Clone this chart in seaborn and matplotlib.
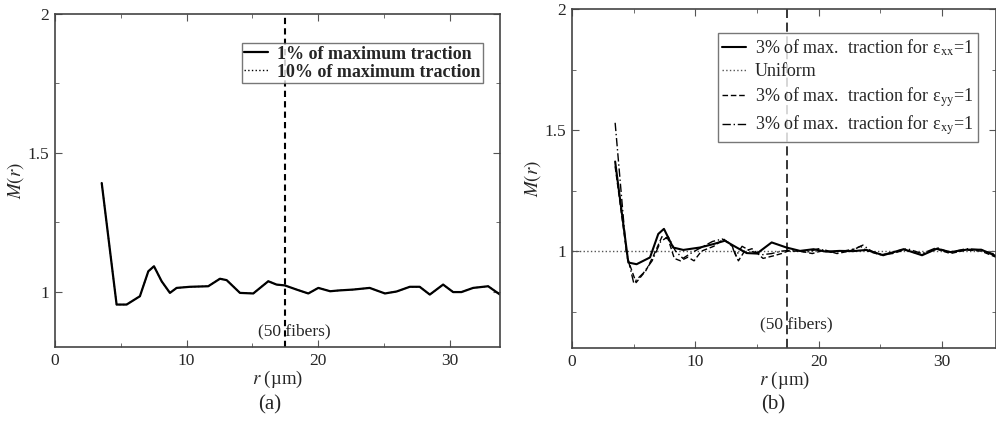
import numpy as np
import pandas as pd
import matplotlib
matplotlib.use("Agg")
import matplotlib.pyplot as plt
import seaborn as sns

# ---------------- data ----------------
# panel (a)
r_a = [3.55, 4.68, 5.44, 6.45, 7.09, 7.52, 8.10, 8.73, 9.24, 10.25, 11.64, 12.53, 13.04,
       14.05, 15.06, 16.2, 16.83, 17.46, 18.35, 19.24, 20.0, 20.9, 21.6, 22.65, 23.9,
       25.06, 25.94, 26.95, 27.7, 28.47, 29.48, 30.24, 30.87, 31.76, 32.9, 33.8]
m_1pct = [1.391, 0.953, 0.953, 0.983, 1.073, 1.091, 1.037, 0.995, 1.013, 1.017, 1.019, 1.046, 1.041,
          0.995, 0.993, 1.037, 1.025, 1.022, 1.007, 0.993, 1.013, 1.001, 1.004, 1.007, 1.013,
          0.993, 1.0, 1.017, 1.017, 0.989, 1.025, 0.998, 0.998, 1.013, 1.019, 0.989]
m_10pct = list(m_1pct)  # overlaps the 1% curve in the picture
labels_a = ["1% of maximum traction", "10% of maximum traction"]

# panel (b)
r_xx = [3.5, 4.57, 5.24, 6.33, 7.0, 7.46, 8.2, 9.03, 10.38, 11.46, 12.4, 13.36, 14.17, 15.0,
        16.2, 17.4, 18.5, 19.6, 20.6, 21.7, 22.8, 23.9, 25.25, 26.9, 28.4, 29.6, 30.7, 32.0, 33.2, 34.4]
m_xx = [1.37, 0.953, 0.946, 0.974, 1.071, 1.092, 1.015, 1.005, 1.015, 1.029, 1.043, 1.015, 0.992, 0.99,
        1.036, 1.015, 1.001, 1.008, 0.998, 1.001, 1.0, 1.005, 0.983, 1.008, 0.983, 1.01, 0.996, 1.006, 1.006, 0.98]

r_yy = [3.5, 4.5, 5.2, 6.0, 6.6, 7.3, 7.8, 8.3, 8.8, 9.4, 9.9, 10.5, 11.5, 12.3, 13.0, 13.5, 14.0,
        14.6, 15.5, 16.3, 17.0, 17.5, 18.5, 19.5, 20.5, 21.5, 22.5, 23.4, 24.0, 25.0, 26.0, 27.0,
        28.4, 29.5, 30.7, 32.0, 33.2, 34.4]
m_yy = [1.35, 0.97, 0.87, 0.92, 0.98, 1.06, 1.05, 0.97, 0.96, 0.975, 0.96, 1.0, 1.02, 1.05, 1.02, 0.96, 1.0,
        1.01, 0.97, 0.98, 0.99, 1.0, 1.0, 0.99, 1.005, 0.99, 1.0, 1.02, 1.0, 0.985, 0.99, 1.005,
        0.985, 1.01, 0.99, 1.005, 1.0, 0.975]

r_xy = [3.5, 4.4, 5.0, 5.8, 6.5, 7.2, 7.8, 8.4, 9.0, 9.6, 10.3, 11.4, 12.2, 12.9, 13.3, 13.8, 14.5,
        15.4, 16.2, 17.0, 18.0, 19.0, 20.0, 21.0, 22.0, 23.0, 23.6, 24.3, 25.2, 26.3, 27.2, 28.4,
        29.6, 30.6, 32.0, 33.2, 34.4]
m_xy = [1.53, 1.0, 0.87, 0.91, 0.96, 1.04, 1.06, 1.0, 0.97, 0.99, 1.01, 1.04, 1.05, 1.03, 0.98, 1.02, 1.0,
        0.985, 0.99, 1.0, 1.005, 0.995, 1.01, 0.995, 1.0, 1.01, 1.025, 1.0, 0.985, 1.0, 1.01, 0.99,
        1.015, 0.995, 1.01, 1.005, 0.985]

r_uniform = [0.0, 34.4]
m_uniform = [1.0, 1.0]

labels_b = [r"3% of max.  traction for ε$_{\mathrm{xx}}$=1",
            "Uniform",
            r"3% of max.  traction for ε$_{\mathrm{yy}}$=1",
            r"3% of max.  traction for ε$_{\mathrm{xy}}$=1"]

r_50_fibers = 17.45
x_ticks = [0, 10, 20, 30]
y_ticks = [1, 1.5, 2]
y_tick_labels = ["1", "1.5", "2"]

# ---------------- style ----------------
sns.set_style("ticks")
plt.rcParams["font.family"] = ["Liberation Serif", "DejaVu Serif"]
plt.rcParams["mathtext.fontset"] = "stix"

fig = plt.figure(figsize=(9.96, 4.26), dpi=100)
ax1 = fig.add_axes([0.0552, 0.1854, 0.4468, 0.7817])
ax2 = fig.add_axes([0.5743, 0.1831, 0.4257, 0.7958])

FS = 12.5
LFS = 13


def style_axes(ax, xlim, ylim, yminor):
    ax.set_xlim(*xlim)
    ax.set_ylim(*ylim)
    ax.set_xticks(x_ticks)
    ax.set_xticks([5, 15, 25], minor=True)
    ax.set_yticks(y_ticks)
    ax.set_yticklabels(y_tick_labels)
    ax.set_yticks(yminor, minor=True)
    ax.tick_params(which="both", direction="in", top=True, right=True, labelsize=FS,
                   color="#555555", pad=4)
    ax.tick_params(which="major", length=5)
    ax.tick_params(which="minor", length=3)
    for s in ax.spines.values():
        s.set_visible(True)
        s.set_color("#444444")
        s.set_linewidth(1.2)
    ax.set_xlabel(r"$r$ (µm)", fontsize=13.5, labelpad=0)
    ax.set_ylabel(r"$M(r)$", fontsize=13.5, labelpad=1)


# ---- panel (a) ----
sns.lineplot(x=r_a, y=m_10pct, ax=ax1, color="black",
             linestyle=":", linewidth=1.0, label=labels_a[1], sort=False)
sns.lineplot(x=r_a, y=m_1pct, ax=ax1, color="black",
             linestyle="-", linewidth=1.6, label=labels_a[0], sort=False)
ax1.axvline(r_50_fibers, color="black", linestyle=(0, (3, 2)), linewidth=1.5)
style_axes(ax1, (0, 33.8), (0.8, 2.0), [1.25, 1.75])
ax1.text(18.2, 0.855, "(50 fibers)", ha="center", va="center", fontsize=FS)
h, l = ax1.get_legend_handles_labels()
order = [l.index(labels_a[0]), l.index(labels_a[1])]
leg1 = ax1.legend([h[i] for i in order], [l[i] for i in order], loc="upper right",
                  bbox_to_anchor=(0.962, 0.913), borderaxespad=0, fancybox=False,
                  edgecolor="#555555", handlelength=1.3, handletextpad=0.5,
                  borderpad=0.15, labelspacing=0.05, prop={"weight": "bold", "size": LFS})
leg1.get_frame().set_linewidth(1.0)
fig.text(0.271, 0.05, "(a)", ha="center", va="center", fontsize=15)

# ---- panel (b) ----
sns.lineplot(x=r_uniform, y=m_uniform, ax=ax2, color="#555555", linestyle=":",
             linewidth=1.0, label=labels_b[1])
sns.lineplot(x=r_xy, y=m_xy, ax=ax2, color="black", linestyle=(0, (6, 2, 1, 2)),
             linewidth=1.0, label=labels_b[3])
sns.lineplot(x=r_yy, y=m_yy, ax=ax2, color="black", linestyle=(0, (4, 2)),
             linewidth=1.0, label=labels_b[2])
sns.lineplot(x=r_xx, y=m_xx, ax=ax2, color="black", linestyle="-",
             linewidth=1.5, label=labels_b[0])
ax2.axvline(r_50_fibers, color="black", linestyle=(0, (6, 3)), linewidth=1.1)
style_axes(ax2, (0, 34.4), (0.6, 2.0), [0.75, 1.25, 1.75])
ax2.text(18.2, 0.697, "(50 fibers)", ha="center", va="center", fontsize=FS)
h, l = ax2.get_legend_handles_labels()
order = [l.index(t) for t in labels_b]
leg2 = ax2.legend([h[i] for i in order], [l[i] for i in order], loc="upper right",
                  bbox_to_anchor=(0.9575, 0.929), borderaxespad=0, fancybox=False,
                  edgecolor="#555555", handlelength=1.3, handletextpad=0.5,
                  borderpad=0.25, labelspacing=0.28, prop={"size": LFS})
leg2.get_frame().set_linewidth(1.0)
fig.text(0.776, 0.05, "(b)", ha="center", va="center", fontsize=15)

fig.savefig("out.png", dpi=100, facecolor="white")
